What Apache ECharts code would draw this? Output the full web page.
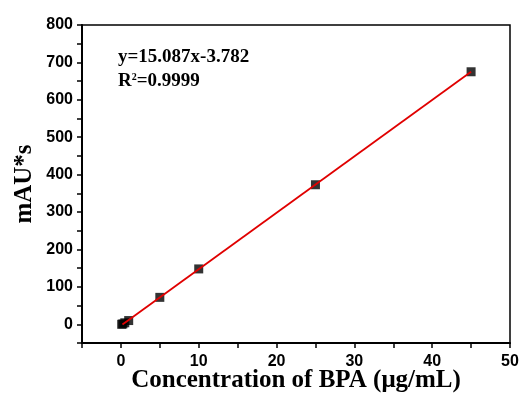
<!DOCTYPE html>
<html>
<head>
<meta charset="utf-8">
<script src="https://cdn.jsdelivr.net/npm/echarts@6/dist/echarts.min.js"></script>
<style>
  html, body { margin: 0; padding: 0; background: #fff; }
  #chart { width: 521px; height: 397px; }
</style>
</head>
<body>
<div id="chart"></div>
<script>
// calibration points (µg/mL vs peak area)
const concentration = [0.1, 0.25, 0.5, 1, 5, 10, 25, 45];
const peakArea = [0, 1, 4, 10, 72, 148, 373, 675];
// fitted line end points
const fitX = [0.2, 45];
const fitY = [-0.8, 675];

const xTicks = [0, 10, 20, 30, 40, 50];
const yTicks = [0, 100, 200, 300, 400, 500, 600, 700, 800];

const chart = echarts.init(document.getElementById("chart"), null, { renderer: "canvas" });

const tickFont = { fontFamily: "Liberation Sans", fontWeight: "bold", fontSize: 16, color: "#000" };
const nameFont = { fontFamily: "Liberation Serif", fontWeight: "bold", fontSize: 25, color: "#000" };

chart.setOption({
  animation: false,
  grid: {
    left: 82, right: 11, top: 25, bottom: 54,
    outerBoundsMode: "none",
    containLabel: false,
    show: true, borderColor: "#000", borderWidth: 1.5
  },
  xAxis: {
    type: "value",
    min: -5,
    max: 50,
    interval: 5,
    name: "Concentration of BPA (\u03bcg/mL)",
    nameLocation: "middle",
    nameGap: 25,
    nameMoveOverlap: false,
    nameTextStyle: nameFont,
    axisLine: { show: true, onZero: false, lineStyle: { color: "#000", width: 2 } },
    axisTick: { show: true, inside: false, length: 5, lineStyle: { color: "#000", width: 1.5 } },
    splitLine: { show: false },
    axisLabel: Object.assign({}, tickFont, {
      margin: 11,
      formatter: v => (xTicks.includes(v) ? String(v) : "")
    })
  },
  yAxis: {
    type: "value",
    min: -50,
    max: 800,
    interval: 50,
    name: "mAU*s",
    nameLocation: "middle",
    nameGap: 45,
    nameMoveOverlap: false,
    nameRotate: 90,
    nameTextStyle: nameFont,
    axisLine: { show: true, onZero: false, lineStyle: { color: "#000", width: 2 } },
    axisTick: { show: true, inside: false, length: 5, lineStyle: { color: "#000", width: 1.5 } },
    splitLine: { show: false },
    axisLabel: Object.assign({}, tickFont, {
      margin: 9,
      formatter: v => (yTicks.includes(v) ? String(v) : "")
    })
  },
  graphic: [
    {
      type: "text",
      left: 118,
      top: 48,
      style: { text: "y=15.087x-3.782", font: "bold 19px 'Liberation Serif'", fill: "#000" }
    },
    {
      type: "text",
      left: 118,
      top: 72,
      style: {
        text: "{r|R}{s|2}{r|=0.9999}",
        rich: {
          r: { font: "bold 19px 'Liberation Serif'", fill: "#000" },
          s: { font: "bold 10px 'Liberation Serif'", fill: "#000", verticalAlign: "top", padding: [0, 0, 9, 0] }
        }
      }
    }
  ],
  series: [
    {
      type: "scatter",
      data: concentration.map((c, i) => [c, peakArea[i]]),
      symbol: "rect",
      symbolSize: 9,
      itemStyle: { color: "#000" },
      z: 2
    },
    {
      type: "line",
      data: fitX.map((c, i) => [c, fitY[i]]),
      showSymbol: false,
      lineStyle: { color: "#e00000", width: 1.8 },
      z: 3
    }
  ]
});
</script>
</body>
</html>
